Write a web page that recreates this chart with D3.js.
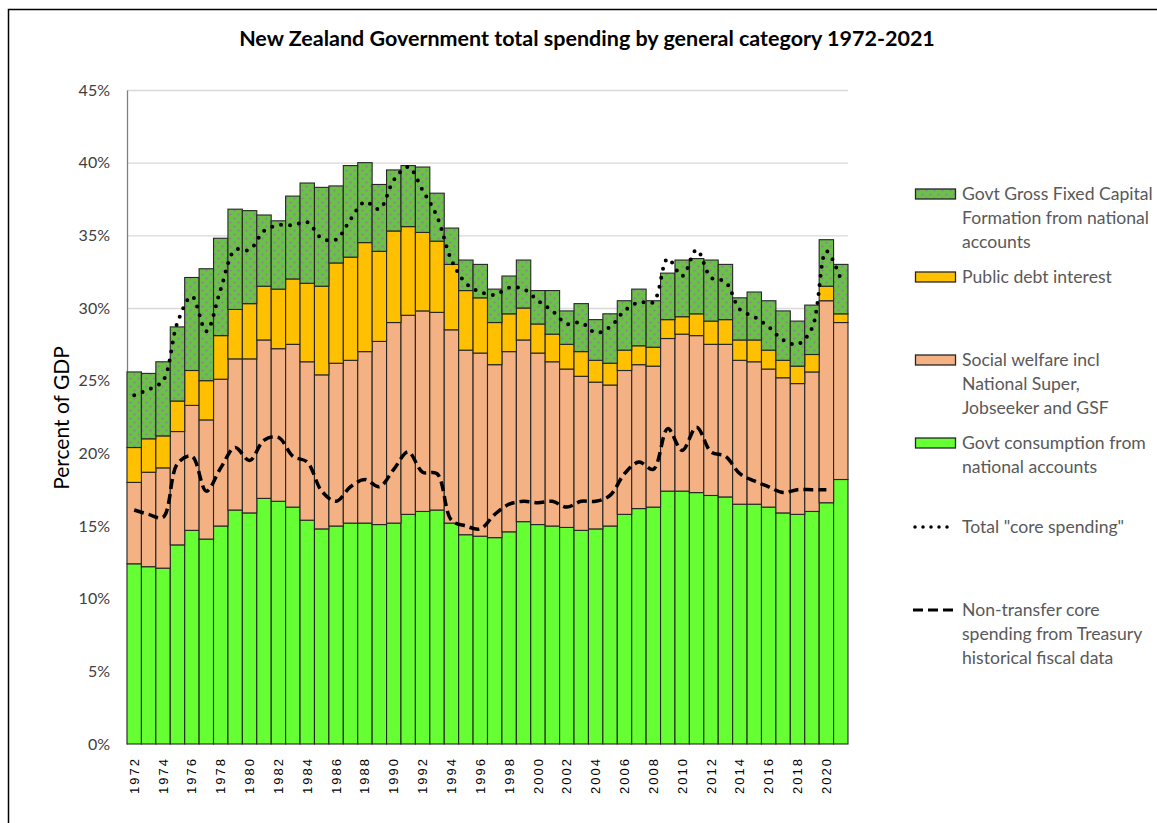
<!DOCTYPE html>
<html lang="en">
  <head>
    <meta charset="utf-8">
    <title>NZ Government spending by category</title>
    <script type="text/javascript" src="https://cdn.jsdelivr.net/npm/d3@7"></script>
    <style>
    body {
      margin: 0;
      background: #fff;
    }
    #chart text {
      font-family: Lato, "Open Sans", sans-serif;
    }
    </style>
  </head>
  <body>
    <div id="chart"></div>

    <script type="text/javascript">

      // DATA ******************************************************************
      var years = d3.range(1972, 2022);

      // percent of GDP, bottom of the stack first
      var govtConsumption = [12.4, 12.2, 12.1, 13.7, 14.7, 14.1, 15.0, 16.1, 15.9, 16.9,
                             16.7, 16.3, 15.4, 14.8, 15.0, 15.2, 15.2, 15.1, 15.2, 15.8,
                             16.0, 16.1, 15.2, 14.4, 14.3, 14.2, 14.6, 15.3, 15.1, 15.0,
                             14.9, 14.7, 14.8, 15.0, 15.8, 16.2, 16.3, 17.4, 17.4, 17.3,
                             17.1, 17.0, 16.5, 16.5, 16.3, 15.9, 15.8, 16.0, 16.6, 18.2];
      var socialWelfare   = [5.6, 6.5, 6.9, 7.8, 8.6, 8.2, 10.1, 10.4, 10.6, 10.9,
                             10.5, 11.2, 10.9, 10.6, 11.2, 11.2, 11.8, 12.6, 13.8, 13.7,
                             13.8, 13.6, 13.3, 12.7, 12.6, 11.9, 12.4, 12.5, 11.8, 11.3,
                             10.9, 10.6, 10.1, 9.7, 9.9, 9.9, 9.7, 10.5, 10.8, 10.8,
                             10.4, 10.5, 9.9, 9.8, 9.5, 9.3, 9.0, 9.6, 13.9, 10.8];
      var debtInterest    = [2.4, 2.3, 2.2, 2.1, 2.4, 2.7, 3.0, 3.4, 3.8, 3.7,
                             4.1, 4.5, 5.4, 6.1, 6.9, 7.1, 7.5, 6.2, 6.3, 6.1,
                             5.4, 4.9, 4.5, 4.1, 3.8, 2.9, 2.6, 2.2, 2.0, 1.9,
                             1.7, 1.7, 1.5, 1.5, 1.4, 1.3, 1.3, 1.3, 1.2, 1.5,
                             1.6, 1.7, 1.4, 1.5, 1.3, 1.2, 1.2, 1.2, 1.0, 0.6];
      var capitalFormation = [5.2, 4.5, 5.1, 5.1, 6.4, 7.7, 6.7, 6.9, 6.4, 4.9,
                             4.7, 5.7, 6.9, 6.8, 5.3, 6.3, 5.5, 4.6, 4.2, 4.2,
                             4.5, 3.3, 2.5, 2.1, 2.3, 2.3, 2.6, 3.3, 2.3, 3.0,
                             2.3, 3.3, 2.8, 3.4, 3.4, 3.9, 3.2, 3.2, 3.9, 3.8,
                             4.2, 3.8, 2.9, 3.3, 3.4, 3.4, 3.1, 3.4, 3.2, 3.4];

      // lines (Treasury historical fiscal data)
      var coreSpending    = [24.0, 24.4, 25.0, 29.0, 30.8, 28.4, 31.3, 34.0, 34.0, 35.3,
                             35.7, 35.7, 35.9, 34.8, 34.7, 36.1, 37.3, 36.8, 38.8, 39.7,
                             38.1, 36.3, 33.3, 31.7, 31.1, 30.9, 31.4, 31.3, 30.5, 29.8,
                             28.9, 29.0, 28.3, 28.7, 29.8, 30.4, 30.4, 33.4, 32.2, 34.0,
                             32.1, 31.8, 29.9, 29.4, 28.7, 27.8, 27.5, 28.6, 33.9, 32.0];
      var nonTransfer     = [16.1, 15.8, 15.6, 19.3, 19.8, 17.4, 19.0, 20.4, 19.5, 20.9,
                             21.1, 19.8, 19.4, 17.4, 16.7, 17.7, 18.2, 17.7, 18.9, 20.1,
                             18.7, 18.6, 15.4, 15.0, 14.8, 15.8, 16.5, 16.7, 16.6, 16.7,
                             16.3, 16.7, 16.7, 17.1, 18.6, 19.4, 18.9, 21.7, 20.2, 21.8,
                             20.1, 19.8, 18.6, 18.1, 17.7, 17.3, 17.5, 17.5, 17.5, null];

      var seriesKeys = ['consumption', 'welfare', 'interest', 'capital'];
      var seriesFills = ['#66ff33', '#f4b183', '#ffc000', 'url(#confetti)'];
      var tickYears = d3.range(1972, 2021, 2);

      var legendItems = [
        {kind: 'rect', fill: 'url(#confetti)', y: 194, lines: ['Govt Gross Fixed Capital', 'Formation from national', 'accounts']},
        {kind: 'rect', fill: '#ffc000', y: 277, lines: ['Public debt interest']},
        {kind: 'rect', fill: '#f4b183', y: 360, lines: ['Social welfare incl', 'National Super,', 'Jobseeker and GSF']},
        {kind: 'rect', fill: '#66ff33', y: 443, lines: ['Govt consumption from', 'national accounts']},
        {kind: 'dots', y: 527, lines: ['Total "core spending"']},
        {kind: 'dash', y: 610, lines: ['Non-transfer core', 'spending from Treasury', 'historical fiscal data']}
      ];

      // table for the stack layout
      var table = years.map(function(yr, i) {
        return {
          year: yr,
          consumption: govtConsumption[i],
          welfare: socialWelfare[i],
          interest: debtInterest[i],
          capital: capitalFormation[i]
        };
      });

      // CHART *****************************************************************
      var W = 1157, H = 823;
      var plot = {left: 127, right: 848, top: 90, bottom: 744};

      var svg = d3.select('#chart').append('svg')
          .attr('width', W)
          .attr('height', H);

      // confetti pattern for capital formation
      var pat = svg.append('defs').append('pattern')
          .attr('id', 'confetti')
          .attr('patternUnits', 'userSpaceOnUse')
          .attr('width', 8)
          .attr('height', 8);
      pat.append('rect').attr('width', 8).attr('height', 8).attr('fill', '#6cbf48');
      [[2, 2], [6, 6]].forEach(function(p) {
        pat.append('rect').attr('x', p[0] - 1).attr('y', p[1]).attr('width', 3).attr('height', 1).attr('fill', '#8f8a9a');
        pat.append('rect').attr('x', p[0]).attr('y', p[1] - 1).attr('width', 1).attr('height', 3).attr('fill', '#8f8a9a');
      });

      // outer chart border
      svg.append('rect')
          .attr('x', 8.5)
          .attr('y', 9.5)
          .attr('width', W + 20)
          .attr('height', H + 20)
          .attr('fill', 'none')
          .attr('stroke', '#000')
          .attr('stroke-width', 1.5);

      svg.append('text')
          .attr('x', 587)
          .attr('y', 38)
          .attr('dy', '0.35em')
          .attr('text-anchor', 'middle')
          .style('font-size', '21.5px')
          .style('font-weight', 'bold')
          .attr('fill', '#000')
          .text('New Zealand Government total spending by general category 1972-2021');

      var x = d3.scaleBand()
          .domain(years)
          .range([plot.left, plot.right])
          .padding(0);

      var y = d3.scaleLinear()
          .domain([0, 45])
          .range([plot.bottom, plot.top]);

      // gridlines
      svg.append('g')
          .selectAll('line')
          .data(d3.range(5, 46, 5))
          .enter().append('line')
            .attr('x1', plot.left)
            .attr('x2', plot.right)
            .attr('y1', function(d) { return y(d) + 0.5; })
            .attr('y2', function(d) { return y(d) + 0.5; })
            .attr('stroke', '#d9d9d9')
            .attr('stroke-width', 1.3);

      // y axis
      var yAxis = d3.axisLeft(y)
          .tickValues(d3.range(0, 46, 5))
          .tickSize(0)
          .tickPadding(17)
          .tickFormat(function(d) { return d + '%'; });

      var yg = svg.append('g')
          .attr('transform', 'translate(' + plot.left + ',0)')
          .call(yAxis);
      yg.select('.domain').attr('stroke', '#808080').attr('stroke-width', 1.3);
      yg.selectAll('text')
          .style('font-size', '16px')
          .attr('fill', '#404040');

      svg.append('text')
          .attr('transform', 'translate(62,418) rotate(-90)')
          .attr('text-anchor', 'middle')
          .attr('dy', '0.35em')
          .style('font-size', '21px')
          .attr('fill', '#000')
          .text('Percent of GDP');

      // stacked bars
      var stacked = d3.stack().keys(seriesKeys)(table);

      var layers = svg.selectAll('.layer')
          .data(stacked)
          .enter().append('g')
            .attr('class', 'layer')
            .attr('fill', function(d, i) { return seriesFills[i]; });

      layers.selectAll('rect')
          .data(function(d) { return d; })
          .enter().append('rect')
            .attr('x', function(d) { return x(d.data.year); })
            .attr('width', x.bandwidth())
            .attr('y', function(d) { return y(d[1]); })
            .attr('height', function(d) { return y(d[0]) - y(d[1]); })
            .attr('stroke', '#262626')
            .attr('stroke-width', 1.1);

      // x axis labels
      var xAxis = d3.axisBottom(x)
          .tickValues(tickYears)
          .tickSize(0)
          .tickPadding(0);

      var xg = svg.append('g')
          .attr('transform', 'translate(0,' + plot.bottom + ')')
          .call(xAxis);
      xg.select('.domain').remove();
      xg.selectAll('text')
          .attr('transform', 'rotate(-90)')
          .attr('x', -13)
          .attr('y', 0)
          .attr('dy', '0.35em')
          .attr('text-anchor', 'end')
          .style('font-family', '"Liberation Sans", Arial, sans-serif')
          .style('font-size', '13px')
          .style('letter-spacing', '2px')
          .attr('fill', '#000');

      // lines
      var line = d3.line()
          .defined(function(d) { return d[1] != null; })
          .x(function(d) { return x(d[0]) + x.bandwidth() / 2; })
          .y(function(d) { return y(d[1]); })
          .curve(d3.curveCatmullRom);

      svg.append('path')
          .datum(years.map(function(yr, i) { return [yr, nonTransfer[i]]; }))
          .attr('d', line)
          .attr('fill', 'none')
          .attr('stroke', '#000')
          .attr('stroke-width', 3.5)
          .attr('stroke-dasharray', '10 5');

      svg.append('path')
          .datum(years.map(function(yr, i) { return [yr, coreSpending[i]]; }))
          .attr('d', line)
          .attr('fill', 'none')
          .attr('stroke', '#000')
          .attr('stroke-width', 4)
          .attr('stroke-linecap', 'round')
          .attr('stroke-dasharray', '0 9');

      // legend
      var lg = svg.append('g');
      legendItems.forEach(function(item) {
        if (item.kind == 'rect') {
          lg.append('rect')
              .attr('x', 915.5)
              .attr('y', item.y - 5)
              .attr('width', 40)
              .attr('height', 10)
              .attr('fill', item.fill)
              .attr('stroke', '#262626')
              .attr('stroke-width', 1.3);
        } else {
          lg.append('line')
              .attr('x1', item.kind == 'dots' ? 915 : 913)
              .attr('x2', 955)
              .attr('y1', item.y)
              .attr('y2', item.y)
              .attr('stroke', '#000')
              .attr('stroke-width', item.kind == 'dots' ? 3.5 : 3)
              .attr('stroke-linecap', item.kind == 'dots' ? 'round' : 'butt')
              .attr('stroke-dasharray', item.kind == 'dots' ? '0 8' : '10 5');
        }
        item.lines.forEach(function(t, k) {
          lg.append('text')
              .attr('x', 962)
              .attr('y', item.y + k * 24)
              .attr('dy', '0.35em')
              .style('font-size', '17.6px')
              .attr('fill', '#595959')
              .text(t);
        });
      });

    </script>
  </body>
</html>
